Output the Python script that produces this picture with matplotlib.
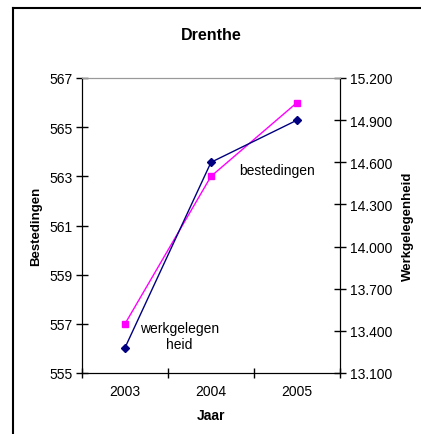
import matplotlib.pyplot as plt
import matplotlib.lines as mlines

plt.rcParams['font.family'] = ['Liberation Sans', 'DejaVu Sans']

# data
jaren = ['2003', '2004', '2005']
bestedingen = [557, 563, 566]
werkgelegenheid = [13280, 14600, 14900]

left_ticks = [555, 557, 559, 561, 563, 565, 567]
right_ticks = [13100, 13400, 13700, 14000, 14300, 14600, 14900, 15200]
right_labels = ['13.100', '13.400', '13.700', '14.000', '14.300', '14.600', '14.900', '15.200']

fig = plt.figure(figsize=(4.21, 4.35), dpi=100)
ax = fig.add_axes([82 / 421, 61 / 435, 258 / 421, 295 / 435])
ax2 = ax.twinx()

x = list(range(len(jaren)))
ax.plot(x, bestedingen, color='#FF00FF', lw=1, marker='s', ms=5, zorder=3)
ax2.plot(x, werkgelegenheid, color='#000080', lw=1, marker='D', ms=4, zorder=3)

ax.set_xlim(-0.5, 2.5)
ax.set_ylim(555, 567)
ax2.set_ylim(13100, 15200)

ax.set_xticks([-0.5, 0.5, 1.5, 2.5])
ax.set_xticklabels([])
ax.set_xticks(x, minor=True)
ax.set_xticklabels(jaren, minor=True)
ax.tick_params(axis='x', which='minor', length=0, labelsize=10, pad=8)
ax.tick_params(axis='x', which='major', direction='inout', length=7, width=1)

ax.set_yticks(left_ticks)
ax.tick_params(axis='y', direction='inout', length=8, width=1, labelsize=10, pad=3)
ax2.set_yticks(right_ticks)
ax2.set_yticklabels(right_labels)
ax2.tick_params(axis='y', direction='inout', length=8, width=1, labelsize=10, pad=3)

for a in (ax, ax2):
    a.spines['top'].set_color('#999999')
    for s in ('left', 'right', 'bottom'):
        a.spines[s].set_color('black')

ax.set_title('Drenthe', fontsize=11.5, fontweight='bold', pad=28)
ax.set_xlabel('Jaar', fontsize=10, fontweight='bold', labelpad=7)
ax.set_ylabel('Bestedingen', fontsize=9.5, fontweight='bold', labelpad=5)
ax2.set_ylabel('Werkgelegenheid', fontsize=9.5, fontweight='bold', labelpad=7)

ax.text(1.77, 563.25, 'bestedingen', fontsize=10, ha='center', va='center')
ax.text(0.63, 556.5, 'werkgelegen\nheid', fontsize=10, ha='center', va='center', linespacing=1.25)

# outer frame (left and top edges visible)
fig.add_artist(mlines.Line2D([13 / 421, 13 / 421], [0, 1 - 9 / 435], color='black', lw=1.5))
fig.add_artist(mlines.Line2D([13 / 421, 1], [1 - 9 / 435, 1 - 9 / 435], color='black', lw=1.5))

fig.savefig('out.png', dpi=100)
